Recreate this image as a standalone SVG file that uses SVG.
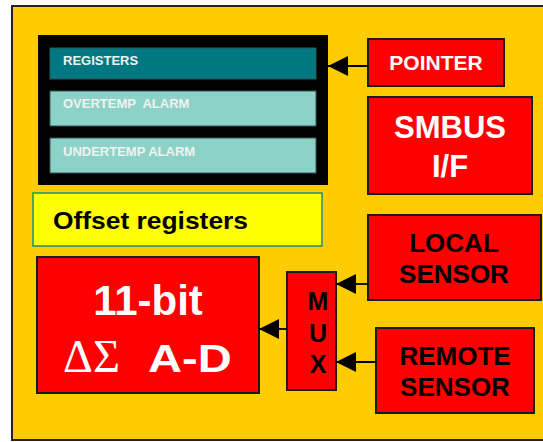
<svg xmlns="http://www.w3.org/2000/svg" width="543" height="442" viewBox="0 0 543 442">
  <style>
    .blk { fill: #FF0000; stroke: #1a1a1a; stroke-width: 2; }
    .reg { stroke: #2a5a5a; stroke-width: 1; }
    .w { fill: #FFFFFF; font-family: "Liberation Sans", Arial, sans-serif; font-weight: bold; }
    .k { fill: #000000; font-family: "Liberation Sans", Arial, sans-serif; font-weight: bold; }
    .rt { fill: #F2F2F2; font-family: "Liberation Sans", Arial, sans-serif; font-weight: bold; font-size: 13px; }
    .conn { stroke: #000000; stroke-width: 1.8; fill: none; marker-end: url(#head); }
  </style>
  <defs>
    <marker id="head" markerUnits="userSpaceOnUse" markerWidth="20" markerHeight="20" refX="20" refY="10" orient="auto">
      <path d="M0,0 L20,10 L0,20 Z" fill="#000000"/>
    </marker>
  </defs>

  <rect x="0" y="0" width="543" height="442" fill="#FFFFFF"/>
  <!-- chip outline -->
  <rect id="chip" x="12" y="6" width="545" height="434" fill="#FFCC00" stroke="#222222" stroke-width="2"/>

  <!-- register file -->
  <g id="register-file">
    <rect x="38" y="35" width="290" height="150" fill="#000000"/>
    <rect class="reg" x="50" y="48" width="266" height="31" fill="#007882"/>
    <text class="rt" x="63" y="65">REGISTERS</text>
    <rect class="reg" x="50" y="91" width="266" height="35" fill="#8DD2C6"/>
    <text class="rt" x="63" y="108" xml:space="preserve">OVERTEMP  ALARM</text>
    <rect class="reg" x="50" y="138" width="266" height="35" fill="#8DD2C6"/>
    <text class="rt" x="63" y="156">UNDERTEMP ALARM</text>
  </g>

  <g id="pointer">
    <rect class="blk" x="368" y="39" width="136" height="47"/>
    <text class="w" x="436" y="70" font-size="21" text-anchor="middle">POINTER</text>
  </g>

  <g id="smbus">
    <rect class="blk" x="368" y="97" width="164" height="97"/>
    <text class="w" x="450" y="138" font-size="31" text-anchor="middle">SMBUS</text>
    <text class="w" x="450" y="177" font-size="31" text-anchor="middle">I/F</text>
  </g>

  <g id="offset">
    <rect x="33" y="193" width="289" height="53" fill="#FFFF00" stroke="#1E8A8A" stroke-width="1.5"/>
    <text class="k" x="53" y="229" font-size="24" textLength="195" lengthAdjust="spacingAndGlyphs">Offset registers</text>
  </g>

  <g id="adc">
    <rect class="blk" x="37" y="257" width="222" height="136"/>
    <text class="w" x="148" y="315" font-size="42" text-anchor="middle">11-bit</text>
    <text x="63" y="372" font-size="47" fill="#FFFFFF" font-family="'Liberation Serif', 'DejaVu Serif', serif" textLength="57" lengthAdjust="spacingAndGlyphs">ΔΣ</text>
    <text class="w" font-size="38" transform="translate(148,372) scale(1.24,1)">A-D</text>
  </g>

  <g id="mux">
    <rect class="blk" x="287" y="272" width="49" height="118"/>
    <text class="k" x="318" y="310" font-size="25" text-anchor="middle">M</text>
    <text class="k" x="318" y="342" font-size="25" text-anchor="middle">U</text>
    <text class="k" x="318" y="373" font-size="25" text-anchor="middle">X</text>
  </g>

  <g id="local-sensor">
    <rect class="blk" x="368" y="215" width="173" height="85"/>
    <text class="k" x="454" y="252" font-size="26" text-anchor="middle">LOCAL</text>
    <text class="k" x="454" y="283" font-size="26" text-anchor="middle">SENSOR</text>
  </g>

  <g id="remote-sensor">
    <rect class="blk" x="376" y="328" width="158" height="85"/>
    <text class="k" x="455" y="365" font-size="26" text-anchor="middle">REMOTE</text>
    <text class="k" x="455" y="396" font-size="26" text-anchor="middle">SENSOR</text>
  </g>

  <g id="connectors">
    <line class="conn" x1="368" y1="66" x2="328" y2="66"/>
    <line class="conn" x1="368" y1="284" x2="336" y2="284"/>
    <line class="conn" x1="376" y1="362" x2="336" y2="362"/>
    <line class="conn" x1="287" y1="329" x2="259" y2="329"/>
  </g>
</svg>
